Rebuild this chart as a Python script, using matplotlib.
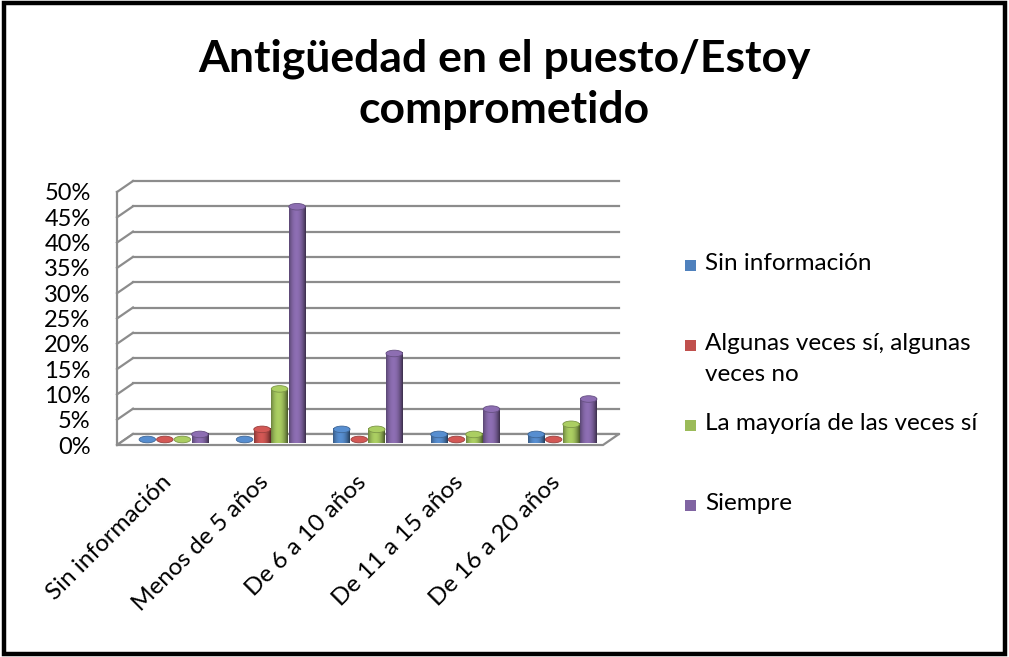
import numpy as np
import matplotlib
matplotlib.use("Agg")
import matplotlib.pyplot as plt
from matplotlib.patches import Rectangle, Ellipse, Polygon
from matplotlib.colors import to_rgb
from matplotlib.transforms import ScaledTranslation

plt.rcParams['font.family'] = ['Lato', 'DejaVu Sans']

categorias = ["Sin información", "Menos de 5 años", "De 6 a 10 años",
              "De 11 a 15 años", "De 16 a 20 años"]
series = ["Sin información", "Algunas veces sí, algunas\nveces no",
          "La mayoría de las veces sí", "Siempre"]
sin_info = [0.0, 0.0, 0.02, 0.01, 0.01]
algunas = [0.0, 0.02, 0.0, 0.0, 0.0]
mayoria = [0.0, 0.10, 0.02, 0.01, 0.03]
siempre = [0.01, 0.46, 0.17, 0.06, 0.08]
colores = ["#4F81BD", "#C0504D", "#9BBB59", "#8064A2"]
yticks = np.arange(0, 0.51, 0.05)

W, H = 1009, 657
fig = plt.figure(figsize=(W/100, H/100), dpi=100)
fig.patches.append(Rectangle((0.004, 0.004), 0.992, 0.992, transform=fig.transFigure,
                             fill=False, ec="black", lw=3.2))

ax = fig.add_axes([117/W, (H-445)/H, 486/W, 253/H])
ax.set_xlim(-0.5, 4.5)
ax.set_ylim(0, 0.5)
for s in ax.spines.values():
    s.set_visible(False)
ax.patch.set_alpha(0)

# profundidad del marco 3D en unidades de datos
dx, dy = 16/97.2, 11/506.0
gris = "#8C8C8C"

# pared del fondo y pared izquierda
for y in yticks:
    ax.plot([-0.5 + dx, 4.5 + dx], [y + dy, y + dy], color=gris, lw=1.6, clip_on=False, zorder=1)
    ax.plot([-0.5, -0.5 + dx], [y, y + dy], color=gris, lw=1.6, clip_on=False, zorder=1)
ax.plot([-0.5, -0.5], [0, 0.5], color=gris, lw=1.6, clip_on=False, zorder=1)
# piso
ax.add_patch(Polygon([(-0.5, 0), (4.5, 0), (4.5 + dx, dy), (-0.5 + dx, dy)], closed=True,
                     fc="white", ec=gris, lw=1.6, clip_on=False, zorder=1.5))

def cilindro(xc, h, w, color):
    r, g, b = to_rgb(color)
    ox, oy = xc + dx/2, dy/2
    eh = 0.013
    t = np.linspace(-1, 1, 64)
    shade = 0.58 + 0.52*(1 - t**2) - 0.12*t
    img = np.clip(np.array([[r*s, g*s, b*s] for s in shade]), 0, 1)[np.newaxis, :, :]
    if h > 0:
        body = Polygon([(ox - w/2, oy), (ox - w/2, oy + h), (ox + w/2, oy + h), (ox + w/2, oy)],
                       closed=True, fc="none", ec="none", clip_on=False)
        ax.add_patch(body)
        base = Ellipse((ox, oy), w, eh, fc="none", ec="none", clip_on=False)
        ax.add_patch(base)
        im = ax.imshow(img, extent=(ox - w/2, ox + w/2, oy, oy + h), aspect="auto",
                       zorder=3, clip_on=False)
        im.set_clip_path(body)
        im2 = ax.imshow(img, extent=(ox - w/2, ox + w/2, oy - eh/2, oy), aspect="auto",
                        zorder=3, clip_on=False)
        im2.set_clip_path(base)
    tapa = tuple(min(1, c*1.1) for c in (r, g, b))
    ax.add_patch(Ellipse((ox, oy + h), w, eh, fc=tapa, ec=tuple(c*0.8 for c in (r, g, b)),
                         lw=0.6, zorder=4, clip_on=False))

valores = [sin_info, algunas, mayoria, siempre]
paso, ancho = 0.18, 0.17
for j, vals in enumerate(valores):
    for i, v in enumerate(vals):
        cilindro(i + (j - 1.5)*paso, v, ancho, colores[j])
ax.set_xlim(-0.5, 4.5)
ax.set_ylim(0, 0.5)

ax.set_yticks(yticks)
ax.set_yticklabels([f"{int(round(v*100))}%" for v in yticks], fontsize=17)
ax.set_xticks(range(len(categorias)))
ax.set_xticklabels(categorias, rotation=45, ha="right", fontsize=17.5)
ax.tick_params(axis="both", length=0)
ax.tick_params(axis="y", pad=19)
ax.tick_params(axis="x", pad=19)
desplaza = ScaledTranslation(10/100, 0, fig.dpi_scale_trans)
for lab in ax.get_xticklabels():
    lab.set_transform(lab.get_transform() + desplaza)

fig.text(0.5, 1 - 84/H, "Antigüedad en el puesto/Estoy\ncomprometido", ha="center", va="center",
         fontsize=32, fontweight="bold", linespacing=1.33)

# leyenda a la derecha
for k, (nombre, c) in enumerate(zip(series, colores)):
    yk = 265 + 80*k
    fig.patches.append(Rectangle((685/W, 1 - (yk + 6)/H), 11/W, 11/H,
                                 transform=fig.transFigure, fc=c, ec="none"))
    fig.text(705/W, 1 - (yk - 12)/H, nombre, ha="left", va="top", fontsize=17.5,
             linespacing=1.6)

fig.savefig("out.png", dpi=100)
